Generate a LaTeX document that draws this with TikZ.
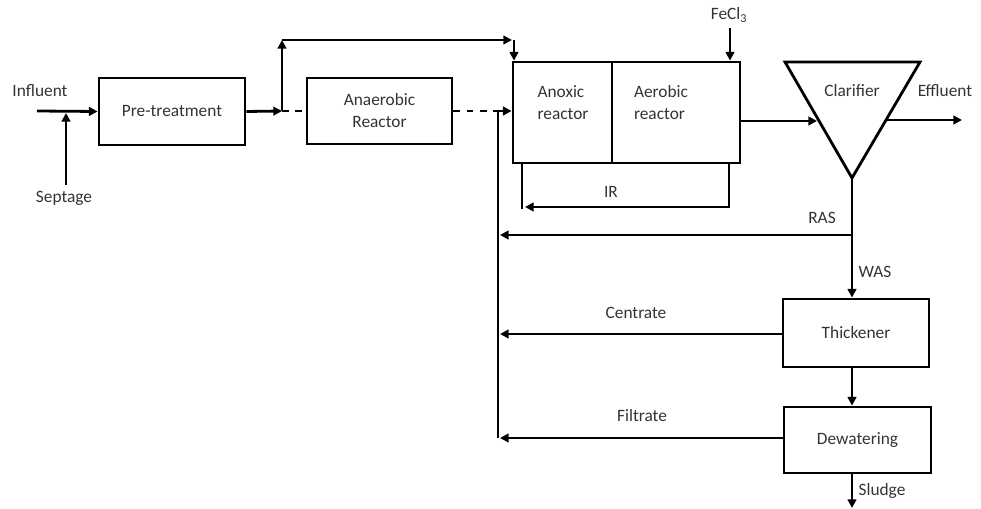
\documentclass[tikz,border=0pt]{standalone}
\usepackage{fontspec}
\setmainfont{Carlito}
\usetikzlibrary{arrows.meta}
\newcommand\dlbl{\fontsize{13}{16.5}\selectfont}
\begin{document}
\begin{tikzpicture}[x=0.75pt,y=-0.75pt,
  line width=2.1pt,
  box/.style={draw, line width=2.1pt, inner sep=0pt, align=center, font=\dlbl, text=black!80},
  lbl/.style={font=\dlbl, text=black!80, inner sep=0pt},
  arr/.style={-{Triangle[length=6.5pt,width=6.5pt]}},
  dsh/.style={line width=1.4pt, dash pattern=on 5pt off 5pt}
]
\useasboundingbox (0,0) rectangle (981,509);

% boxes
\node[box, minimum width=109.5pt, minimum height=50.25pt] (pre) at (172,111.5) {Pre-treatment};
\node[box, minimum width=108.75pt, minimum height=49.5pt] (ana) at (379.5,111) {Anaerobic\\Reactor};
\node[box, minimum width=74.25pt, minimum height=75.75pt] (anox) at (562.5,112.5) {};
\node[box, minimum width=96pt, minimum height=75.75pt] (aero) at (676,112.5) {};
\node[lbl, align=left] (anoxt) at (563,103) {Anoxic\\reactor};
\node[lbl, align=left] (aerot) at (661,103) {Aerobic\\reactor};
\node[box, minimum width=109.5pt, minimum height=51pt] (thick) at (856,333) {Thickener};
\node[box, minimum width=110.25pt, minimum height=49.5pt] (dew) at (857.5,440) {Dewatering};

% clarifier
\coordinate (cla) at (785,62);
\coordinate (clb) at (920,62);
\coordinate (clc) at (852,178);
\draw[line join=miter] (cla) -- (clb) -- (clc) -- cycle;
\node[lbl] (clar) at (852,91) {Clarifier};

% labels
\node[lbl] (tinf) at (40,91) {Influent};
\node[lbl] (tsep) at (64,198) {Septage};
\node[lbl] (tfe) at (729,15) {FeCl\textsubscript{3}};
\node[lbl] (tir) at (611,192) {IR};
\node[lbl] (teff) at (945,91) {Effluent};
\node[lbl] (tras) at (822,218) {RAS};
\node[lbl] (twas) at (875,272) {WAS};
\node[lbl] (tcen) at (636,313) {Centrate};
\node[lbl] (tfil) at (642,416) {Filtrate};
\node[lbl] (tslu) at (882,491) {Sludge};

% coordinates
\coordinate (inf) at (37,111);
\coordinate (sep) at (66,185);
\coordinate (sepend) at (66,113);
\coordinate (split) at (282,111);
\coordinate (bypA) at (282,40);
\coordinate (bypB) at (512,40);
\coordinate (bypC) at (514,40);
\coordinate (ret) at (498,111);
\coordinate (retbot) at (498,438);
\coordinate (anaout) at (499,111);
\coordinate (fe) at (730,28);
\coordinate (irA) at (729,207);
\coordinate (irB) at (525,207);
\coordinate (irC) at (522,209);
\coordinate (clin) at (817,121);
\coordinate (clout) at (886,120);
\coordinate (effend) at (962,120);
\coordinate (rasj) at (852,235);
\coordinate (rasend) at (500,235);
\coordinate (cenend) at (500,334);
\coordinate (filend) at (500,438);
\coordinate (sluend) at (852,508);

% flows
\draw[arr] (inf) -- (pre.west);
\draw[arr] (sep) -- (sepend);
\draw[arr] (pre.east) -- (split);
\draw[arr] (split) -- (bypA);
\draw[arr] (bypA) -- (bypB);
\draw[arr] (bypC) -- (anox.north -| bypC);
\draw[dsh] (split) -- (ana.west);
\draw[dsh] (ana.east) -- (anaout);
\draw[arr] (ret) -- (anox.west |- ret);
\draw (ret) -- (retbot);
\draw[arr] (fe) -- (aero.north -| fe);
\draw[arr] (aero.south -| irA) -- (irA) -- (irB);
\draw (anox.south -| irC) -- (irC);
\draw[arr] (aero.east |- clin) -- (clin);
\draw[arr] (clout) -- (effend);
\draw[arr] (clc) -- (thick.north -| clc);
\draw[arr] (rasj) -- (rasend);
\draw[arr] (thick.west |- cenend) -- (cenend);
\draw[arr] (thick.south -| clc) -- (dew.north -| clc);
\draw[arr] (dew.west |- filend) -- (filend);
\draw[arr] (dew.south -| clc) -- (sluend);
\end{tikzpicture}
\end{document}
